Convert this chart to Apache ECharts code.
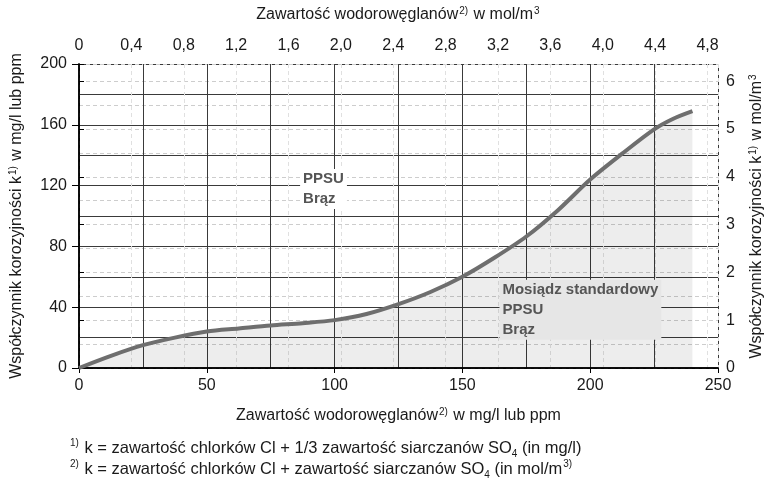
<!DOCTYPE html>
<html>
<head>
<meta charset="utf-8">
<script src="https://cdn.jsdelivr.net/npm/echarts@6/dist/echarts.min.js"></script>
<style>
html,body{margin:0;padding:0;background:#fff;}
#c{width:773px;height:484px;}
</style>
</head>
<body>
<div id="c"></div>
<script>
// Data
const xVals = [0, 12.5, 25, 37.5, 50, 62.5, 75, 87.5, 100, 112.5, 125, 137.5, 150, 162.5, 175, 187.5, 200, 212.5, 225, 232.5, 240];
const kVals = [0, 8, 15, 20, 24, 26, 28, 29.5, 31.5, 35.5, 42, 50, 60, 72.5, 86.5, 104, 124, 141, 157, 164, 169];
const bottomTicks = [0, 50, 100, 150, 200, 250];
const leftTicks = [0, 40, 80, 120, 160, 200];
const topTickStep = 0.4;
const topMax = 4.88;
const rightMax = 6.36;
const annotUpper = {x: 86.5, y: 131, lines: ['PPSU', 'Brąz']};
const annotLower = {x: 164.5, y: 58, lines: ['Mosiądz standardowy', 'PPSU', 'Brąz']};

const FONT = "'Liberation Sans Narrow', 'Liberation Sans', Arial, sans-serif";
const TXT = '#1a1a1a';
const GRIDC = '#3a3a3a';
const supRich = {
  sup: {fontSize: 10, fontFamily: FONT, color: TXT, verticalAlign: 'top', lineHeight: 18, padding: [0, 1, 6, 1]},
  sub: {fontSize: 10, fontFamily: FONT, color: TXT, verticalAlign: 'bottom', lineHeight: 18, padding: [6, 0, 0, 0]}
};

const chart = echarts.init(document.getElementById('c'), null, {renderer: 'canvas'});
const seriesData = xVals.map((x, i) => [x, kVals[i]]);

function nearMultiple(v, step) {
  const r = v / step;
  return Math.abs(r - Math.round(r)) < 1e-6;
}

chart.setOption({
  animation: false,
  backgroundColor: '#fff',
  grid: {left: 76, right: 55, top: 64, bottom: 116},
  xAxis: [
    {
      type: 'value', position: 'bottom', min: 0, max: 250, interval: 50,
      name: 'Zawartość wodorowęglanów{sup|2)} w mg/l lub ppm',
      nameLocation: 'middle', nameGap: 39,
      nameTextStyle: {fontFamily: FONT, fontSize: 16, color: TXT, rich: supRich},
      axisLine: {show: true, lineStyle: {color: '#000', width: 1.5}},
      axisTick: {show: true, length: 5, lineStyle: {color: '#000'}},
      axisLabel: {fontFamily: FONT, fontSize: 16, color: TXT, margin: 10},
      splitLine: {show: true, lineStyle: {color: GRIDC, width: 1}},
      minorTick: {show: false, splitNumber: 2},
      minorSplitLine: {show: true, lineStyle: {color: GRIDC, width: 1}}
    },
    {
      type: 'value', position: 'top', min: 0, max: topMax, interval: topTickStep,
      name: 'Zawartość wodorowęglanów{sup|2)} w mol/m{sup|3}',
      nameLocation: 'middle', nameGap: 40,
      nameTextStyle: {fontFamily: FONT, fontSize: 16, color: TXT, rich: supRich},
      axisLine: {show: true, lineStyle: {color: '#000', width: 1.5}},
      axisTick: {show: false},
      axisLabel: {fontFamily: FONT, fontSize: 16, color: TXT, margin: 10,
        formatter: v => nearMultiple(v, topTickStep) ? (v === 0 ? '0' : v.toFixed(1).replace('.', ',')) : ''},
      splitLine: {show: true, lineStyle: {color: '#e0e0e0', width: 1, type: [4, 3]}}
    }
  ],
  yAxis: [
    {
      type: 'value', position: 'left', min: 0, max: 200, interval: 40,
      name: 'Współczynnik korozyjności k{sup|1)} w mg/l lub ppm',
      nameLocation: 'middle', nameGap: 53, nameRotate: 90,
      nameTextStyle: {fontFamily: FONT, fontSize: 16, color: TXT, rich: supRich},
      axisLine: {show: true, lineStyle: {color: '#000', width: 1.5}},
      axisTick: {show: true, length: 7, lineStyle: {color: '#000'}},
      axisLabel: {fontFamily: FONT, fontSize: 16, color: TXT, margin: 12},
      splitLine: {show: true, lineStyle: {color: GRIDC, width: 1}},
      minorTick: {show: false, splitNumber: 2},
      minorSplitLine: {show: true, lineStyle: {color: GRIDC, width: 1}}
    },
    {
      type: 'value', position: 'right', min: 0, max: rightMax, interval: 1,
      name: 'Współczynnik korozyjności k{sup|1)} w mol/m{sup|3}',
      nameLocation: 'middle', nameGap: 30, nameRotate: 90,
      nameTextStyle: {fontFamily: FONT, fontSize: 16, color: TXT, rich: supRich},
      axisLine: {show: true, lineStyle: {color: '#000', width: 1.5}},
      axisTick: {show: true, length: 5, lineStyle: {color: '#000'}},
      axisLabel: {fontFamily: FONT, fontSize: 16, color: TXT, margin: 8,
        formatter: v => nearMultiple(v, 1) ? String(v) : ''},
      splitLine: {show: true, lineStyle: {color: '#cdcdcd', width: 1, type: [4, 3]}},
      minorTick: {show: false, splitNumber: 2},
      minorSplitLine: {show: true, lineStyle: {color: '#cdcdcd', width: 1, type: [4, 3]}}
    }
  ],
  series: [{
    type: 'line', xAxisIndex: 0, yAxisIndex: 0,
    data: seriesData, smooth: 0.3, showSymbol: false, symbol: 'none',
    lineStyle: {color: '#6e6e6e', width: 4},
    areaStyle: {color: 'rgba(0,0,0,0.1)'},
    z: 3
  }]
});

function annot(a, bg) {
  const p = chart.convertToPixel({xAxisIndex: 0, yAxisIndex: 0}, [a.x, a.y]);
  return {
    type: 'text', left: p[0], top: p[1], z: 100,
    style: {
      text: a.lines.join('\n'),
      fontFamily: "'Liberation Sans', Arial, sans-serif", fontWeight: 'bold', fontSize: 15,
      lineHeight: 20, fill: '#555', backgroundColor: bg, padding: [0, 3, 0, 3]
    }
  };
}

chart.setOption({
  graphic: [
    annot(annotUpper, '#fff'),
    annot(annotLower, '#e6e6e6'),
    {
      type: 'text', left: 69, top: 438, z: 100,
      style: {
        text: '{sup|1)} k = zawartość chlorków Cl + 1/3 zawartość siarczanów SO{sub|4} (in mg/l)\n{sup|2)} k = zawartość chlorków Cl + zawartość siarczanów SO{sub|4} (in mol/m{sup|3)}',
        fontFamily: FONT, fontSize: 16.5, fill: TXT, lineHeight: 21, rich: supRich
      }
    }
  ]
});
</script>
</body>
</html>
